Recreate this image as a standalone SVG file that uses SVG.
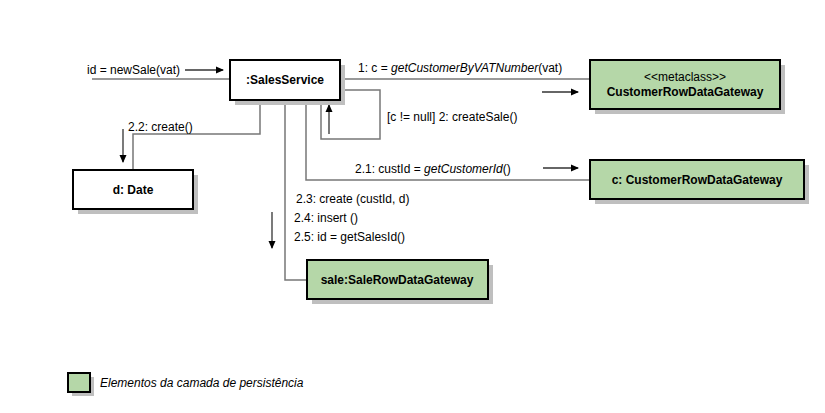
<svg xmlns="http://www.w3.org/2000/svg" width="825" height="413" viewBox="0 0 825 413">
<defs>
<style>
text{font-family:"Liberation Sans",Arial,sans-serif;font-size:12px;fill:#000}
.b{font-weight:bold}
.t{text-anchor:middle}
.i{font-style:italic}
.box{stroke:#000;stroke-width:2}
.sh{fill:#bfbfbf}
.c{fill:none;stroke:#777;stroke-width:1.5}
.ar{stroke:#333;stroke-width:1.3;fill:none}
</style>
<marker id="ah" markerWidth="8" markerHeight="8" refX="7" refY="4" orient="auto" markerUnits="userSpaceOnUse">
<path d="M0,0.5 L8,4 L0,7.5 z" fill="#000"/>
</marker>
</defs>
<rect width="825" height="413" fill="#fff"/>
<g id="connectors">
<path class="c" d="M92,79 H230"/>
<path class="c" d="M340,79 H590"/>
<path class="c" d="M340,90 H380 V139 H321 V100"/>
<path class="c" d="M260,100 V134 H133 V170"/>
<path class="c" d="M285,100 V280 H307"/>
<path class="c" d="M306,100 V180 H590"/>
<path class="ar" d="M185,70 H223" marker-end="url(#ah)"/>
<path class="ar" d="M542,92 H578" marker-end="url(#ah)"/>
<path class="ar" d="M543,168 H578" marker-end="url(#ah)"/>
<path class="ar" d="M329,134 V105" marker-end="url(#ah)"/>
<path class="ar" d="M123,129 V162" marker-end="url(#ah)"/>
<path class="ar" d="M272,212 V248" marker-end="url(#ah)"/>
<text x="87" y="74">id = newSale(vat)</text>
<text x="358" y="72">1: c = <tspan class="i">getCustomerByVATNumber</tspan>(vat)</text>
<text x="387" y="121">[c != null] 2: createSale()</text>
<text x="128" y="131">2.2: create()</text>
<text x="355" y="173">2.1: custId = <tspan class="i">getCustomerId</tspan>()</text>
<text x="296" y="203">2.3: create (custId, d)</text>
<text x="294" y="222">2.4: insert ()</text>
<text x="294" y="241">2.5: id = getSalesId()</text>
</g>
<g id="salesService">
<rect class="sh" x="235" y="65" width="110" height="40"/>
<rect class="box" x="230" y="60" width="110" height="40" fill="#fff"/>
<text class="b t" x="285" y="84">:SalesService</text>
</g>
<g id="date">
<rect class="sh" x="78" y="175" width="120" height="39"/>
<rect class="box" x="73" y="170" width="120" height="39" fill="#fff"/>
<text class="b t" x="133" y="194">d: Date</text>
</g>
<g id="metaclass">
<rect class="sh" x="595" y="65" width="190" height="49"/>
<rect class="box" x="590" y="60" width="190" height="49" fill="#b5d7a8"/>
<text class="t" x="685" y="81">&lt;&lt;metaclass&gt;&gt;</text>
<text class="b t" x="685" y="96">CustomerRowDataGateway</text>
</g>
<g id="customer">
<rect class="sh" x="595" y="165" width="214" height="39"/>
<rect class="box" x="590" y="160" width="214" height="39" fill="#b5d7a8"/>
<text class="b t" x="697" y="184">c: CustomerRowDataGateway</text>
</g>
<g id="sale">
<rect class="sh" x="312" y="265" width="181" height="39"/>
<rect class="box" x="307" y="260" width="181" height="39" fill="#b5d7a8"/>
<text class="b t" x="397" y="284">sale:SaleRowDataGateway</text>
</g>
<g id="legend">
<rect class="sh" x="72" y="377" width="22" height="19"/>
<rect class="box" x="68" y="373" width="22" height="19" fill="#b5d7a8"/>
<text class="i" x="100" y="387">Elementos da camada de persistência</text>
</g>
</svg>
